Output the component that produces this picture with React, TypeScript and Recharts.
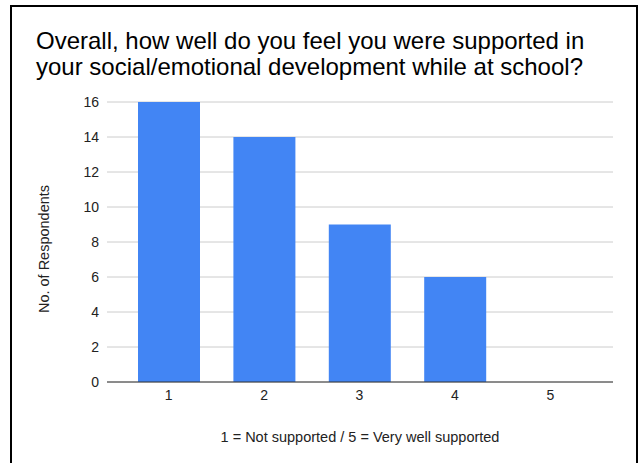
import React from "react";
import { BarChart, Bar, XAxis, YAxis, CartesianGrid } from "recharts";

// Survey ratings on a 1–5 scale and how many respondents chose each
const ratings = ["1", "2", "3", "4", "5"];
const respondents = [16, 14, 9, 6, 0];
const yTicks = [0, 2, 4, 6, 8, 10, 12, 14, 16];

const data = ratings.map((rating, i) => ({ rating, count: respondents[i] }));

const FONT = "'Liberation Sans', Arial, Helvetica, sans-serif";

// Rotated y-axis title, centred a little below the middle of the axis box
const YTitle = (props: any) => {
  const vb = props.viewBox || {};
  const cx = vb.x + 44;
  const cy = vb.y + vb.height / 2 + 7;
  return (
    <text
      x={cx}
      y={cy}
      transform={`rotate(-90, ${cx}, ${cy})`}
      textAnchor="middle"
      dominantBaseline="central"
      fill="#222222"
      fontSize={14.5}
      fontFamily={FONT}
    >
      No. of Respondents
    </text>
  );
};

export default function App() {
  return (
    <div
      style={{
        position: "absolute",
        left: 0,
        top: 0,
        width: 640,
        height: 463,
        overflow: "hidden",
        background: "#fff",
        fontFamily: FONT,
      }}
    >
      {/* frame around the chart card */}
      <div
        style={{
          position: "absolute",
          left: 10,
          top: 5,
          width: 628,
          height: 480,
          border: "2px solid #000",
          boxSizing: "border-box",
        }}
      />
      <div
        style={{
          position: "absolute",
          left: 36,
          top: 28,
          fontSize: 24,
          lineHeight: "26px",
          color: "#000",
          whiteSpace: "nowrap",
        }}
      >
        Overall, how well do you feel you were supported in
        <br />
        your social/emotional development while at school?
      </div>
      <div style={{ position: "absolute", left: 0, top: 0 }}>
        <BarChart
          width={640}
          height={463}
          data={data}
          margin={{ top: 102, right: 27, bottom: 0, left: 0 }}
          barSize={62}
        >
          <CartesianGrid vertical={false} stroke="#cccccc" />
          <XAxis
            dataKey="rating"
            height={81}
            padding={{ left: 14, right: 15 }}
            tickLine={false}
            axisLine={{ stroke: "#333333" }}
            tick={{ fill: "#222222", fontSize: 14, fontFamily: FONT }}
            label={{
              value: "1 = Not supported / 5 = Very well supported",
              position: "insideBottom",
              offset: 21,
              fill: "#222222",
              fontSize: 14.5,
              fontFamily: FONT,
            }}
          />
          <YAxis
            width={107}
            domain={[0, 16]}
            ticks={yTicks}
            interval={0}
            tickLine={false}
            axisLine={false}
            tick={{ fill: "#222222", fontSize: 14, fontFamily: FONT }}
            label={<YTitle />}
          />
          <Bar dataKey="count" fill="#4285f4" isAnimationActive={false} />
        </BarChart>
      </div>
    </div>
  );
}
